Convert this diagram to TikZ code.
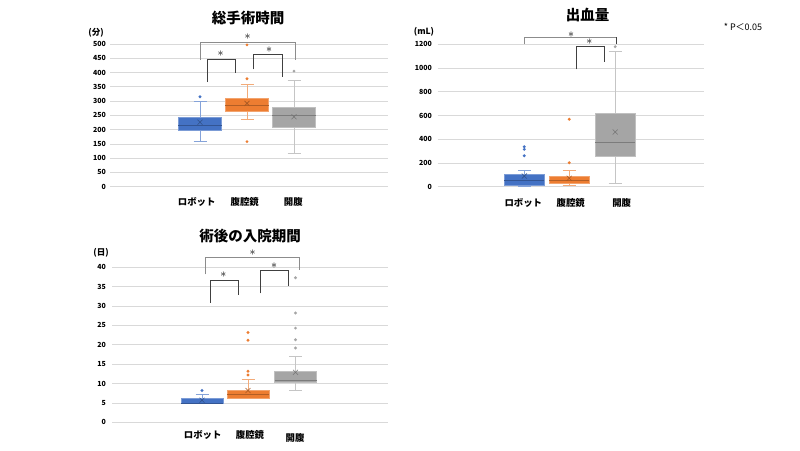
\documentclass[tikz,border=0pt]{standalone}
\usepackage{fontspec}
\setmainfont{Noto Sans CJK JP}
\usepackage{tikz}
\usetikzlibrary{positioning}

\definecolor{robot}{HTML}{4472C4}
\definecolor{lapa}{HTML}{ED7D31}
\definecolor{opn}{HTML}{A5A5A5}
\definecolor{gridc}{HTML}{D9D9D9}
\definecolor{sigbig}{HTML}{8C8C8C}
\definecolor{sigsmall}{HTML}{404040}

% one box: x, low, q1, median, q3, high, mean, colour
\newcommand{\bxp}[8]{%
  \draw[#8!65!white, line width=0.8pt] (#1,#2) -- (#1,#3) (#1,#5) -- (#1,#6)
    (#1-6.5,#2) -- (#1+6.5,#2) (#1-6.5,#6) -- (#1+6.5,#6);
  \filldraw[fill=#8, draw=#8!70!white, line width=0.8pt] (#1-\bw,#3) rectangle (#1+\bw,#5);
  \draw[#8!75!black, line width=0.6pt] (#1-\bw,#4) -- (#1+\bw,#4);
  \draw[#8!70!black, line width=0.6pt] (#1,#7) +(-2.5pt,-2.5pt) -- +(2.5pt,2.5pt) +(-2.5pt,2.5pt) -- +(2.5pt,-2.5pt);
}

\begin{document}
\begin{tikzpicture}[x=1pt, y=-1pt,
    title/.style={font=\bfseries\fontsize{14.5}{16}\selectfont, inner sep=0pt},
    tick/.style={font=\bfseries\fontsize{7}{8}\selectfont, anchor=east, inner sep=0pt},
    cat/.style={font=\bfseries\fontsize{9.4}{10}\selectfont, inner sep=0pt},
    unit/.style={font=\bfseries\fontsize{8.5}{9}\selectfont, inner sep=0pt},
    gridln/.style={draw=gridc, line width=0.7pt},
    brbig/.style={draw=sigbig, line width=1pt},
    brsmall/.style={draw=sigsmall, line width=0.95pt},
    star/.style={font=\fontsize{13}{13}\selectfont, inner sep=0pt, text=black},
    outl/.style={radius=1.6pt}]
\useasboundingbox[fill=white] (0,0) rectangle (800,450);

% --- total operation time
\node[title] (ttl1) at (248,18) {総手術時間};
\node[unit] (u1) at (96,33) {(分)};
\begin{scope}[shift={(0,186.7)}, y=0.2854pt]
  \foreach \v in {0,50,...,500} {
    \draw[gridln] (110,\v) -- (388,\v);
    \node[tick] (a\v) at (106,\v) {\v};
  }
  \def\bw{21.7}
  \bxp{200}{159}{196}{215}{242}{298}{226}{robot}
  \bxp{247}{236}{265}{286}{310}{357}{292}{lapa}
  \bxp{294}{115}{208}{250}{278}{372}{245}{opn}
  \fill[robot] (200,315) circle[outl];
  \fill[lapa] (247,497) circle[outl] (247,378) circle[outl] (247,158) circle[outl];
  \fill[opn] (294,405) circle[outl];
\end{scope}
\draw[brbig] (200.7,60) -- (200.7,42.3) -- (295,42.3) -- (295,60);
\draw[brsmall] (207,82) -- (207,59.3) -- (235,59.3) -- (235,73.3);
\draw[brsmall] (253.3,69.3) -- (253.3,54.7) -- (282.5,54.7) -- (282.5,77.3);
\node[star] (s1a) at (247.5,37) {$\ast$};
\node[star] (s1b) at (220.7,54) {$\ast$};
\node[star] (s1c) at (269,49.5) {$\ast$};
\node[cat] (c1a) at (196.7,202.3) {ロボット};
\node[cat] (c1b) at (244.7,202.3) {腹腔鏡};
\node[cat] (c1c) at (293.3,202.3) {開腹};

% --- blood loss
\node[title] (ttl2) at (587.7,15) {出血量};
\node[unit] (u2) at (424,32) {(mL)};
\node[font=\fontsize{9}{10}\selectfont] (pval) at (743,27) {* P＜0.05};
\begin{scope}[shift={(0,186.7)}, y=0.11867pt]
  \foreach \v in {0,200,...,1200} {
    \draw[gridln] (437.7,\v) -- (704,\v);
    \node[tick] (b\v) at (432,\v) {\v};
  }
  \def\bw{20}
  \bxp{524.3}{0}{14}{54}{107}{135}{90}{robot}
  \bxp{569.2}{12}{28}{50}{84}{135}{71}{lapa}
  \bxp{615.2}{28}{259}{371}{618}{1141}{461}{opn}
  \fill[robot] (524.3,337) circle[outl] (524.3,315) circle[outl] (524.3,261) circle[outl];
  \fill[lapa] (569.2,568) circle[outl] (569.2,202) circle[outl];
  \fill[opn] (615.2,1180) circle[outl];
\end{scope}
\draw[brbig] (524,44) -- (524,37.3) -- (616.7,37.3);
\draw[brsmall] (616.7,37.3) -- (616.7,44.3);
\draw[brsmall] (576.3,69.3) -- (576.3,46.7) -- (604.3,46.7) -- (604.3,61.7);
\node[star] (s2a) at (571,34.3) {$\ast$};
\node[star] (s2b) at (589.3,41.5) {$\ast$};
\node[cat] (c2a) at (523.3,202.7) {ロボット};
\node[cat] (c2b) at (570.7,202.7) {腹腔鏡};
\node[cat] (c2c) at (621.7,202.7) {開腹};

% --- postoperative stay
\node[title] (ttl3) at (250,236) {術後の入院期間};
\node[unit] (u3) at (101,252.5) {(日)};
\begin{scope}[shift={(0,422.3)}, y=3.875pt]
  \foreach \v in {0,5,...,40} {
    \draw[gridln] (112.3,\v) -- (388,\v);
    \node[tick] (d\v) at (106,\v) {\v};
  }
  \def\bw{21}
  \bxp{202}{5}{5}{5}{6.2}{7.1}{5.7}{robot}
  \bxp{248}{6.1}{6.1}{7.1}{8.15}{11.1}{8.2}{lapa}
  \bxp{295.5}{8.2}{10.2}{10.9}{13.06}{17}{12.9}{opn}
  \fill[robot] (202,8.2) circle[outl];
  \fill[lapa] (248,23.2) circle[outl] (248,21.2) circle[outl] (248,13.2) circle[outl] (248,12.2) circle[outl];
  \fill[opn] (295.5,37.3) circle[outl] (295.5,28.2) circle[outl] (295.5,24.3) circle[outl]
    (295.5,21.3) circle[outl] (295.5,19.2) circle[outl];
\end{scope}
\draw[brbig] (205.7,274.3) -- (205.7,257.3) -- (299.7,257.3) -- (299.7,270);
\draw[brsmall] (210.3,302.7) -- (210.3,280) -- (238.3,280) -- (238.3,295);
\draw[brsmall] (260.7,293.3) -- (260.7,270.3) -- (288.3,270.3) -- (288.3,285.7);
\node[star] (s3a) at (252.7,252.3) {$\ast$};
\node[star] (s3b) at (223.3,275) {$\ast$};
\node[star] (s3c) at (274,265.7) {$\ast$};
\node[cat] (c3a) at (202.7,435) {ロボット};
\node[cat] (c3b) at (250,435) {腹腔鏡};
\node[cat] (c3c) at (295,438) {開腹};
\end{tikzpicture}
\end{document}
